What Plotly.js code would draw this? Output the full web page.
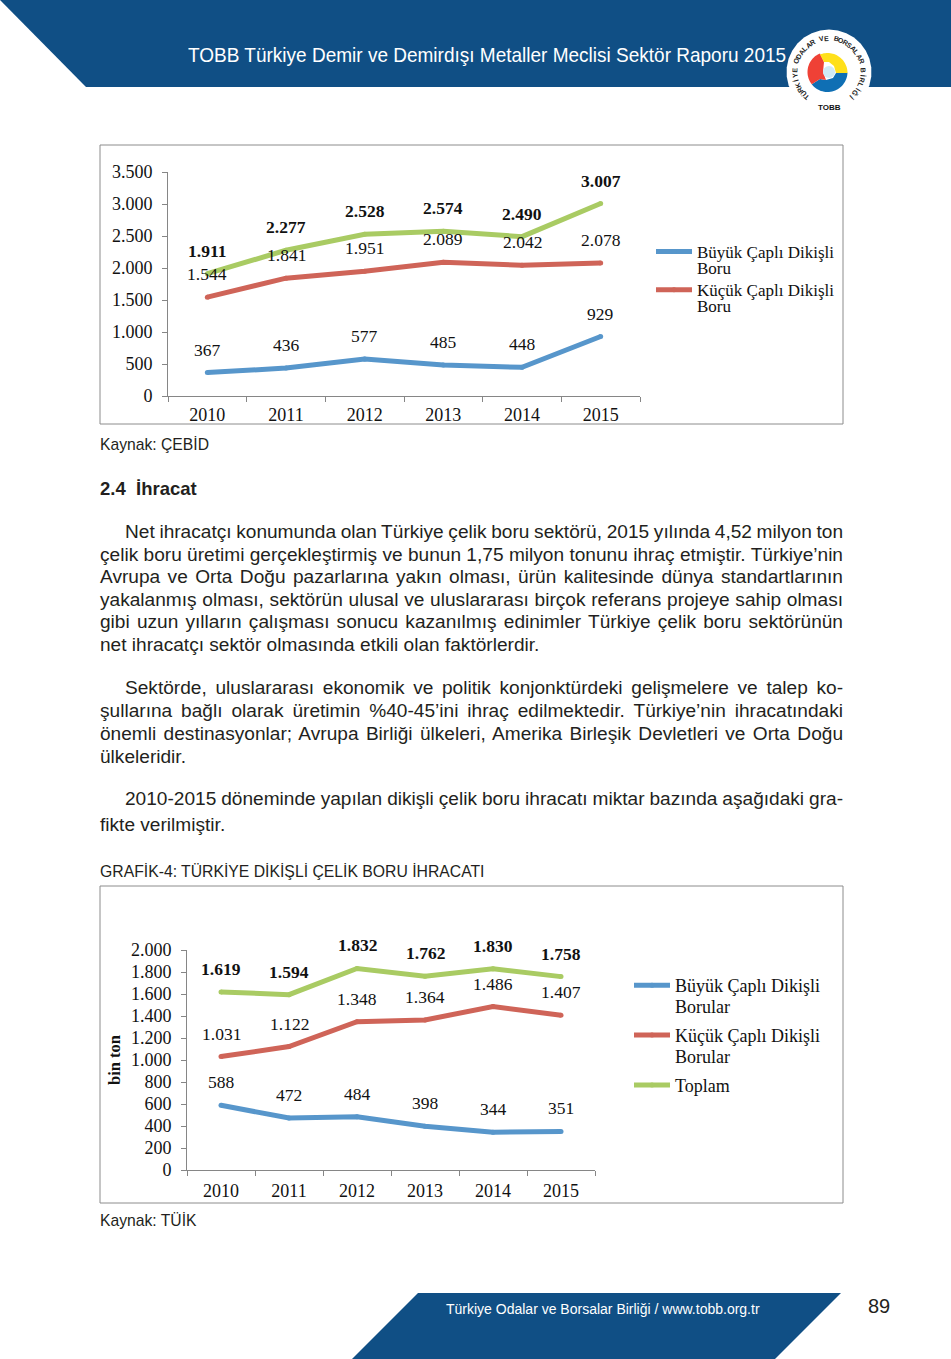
<!DOCTYPE html>
<html lang="tr">
<head>
<meta charset="utf-8">
<script src="https://cdn.plot.ly/plotly-3.0.1.min.js"></script>
<style>
html,body{margin:0;padding:0;background:#fff}
#page{position:relative;width:951px;height:1359px;overflow:hidden}
#plot{position:absolute;left:0;top:0;width:951px;height:1359px}
.t{position:absolute;font-family:"Liberation Sans",Arial,sans-serif;color:#231f20;white-space:pre;line-height:1;z-index:5}
</style>
</head>
<body>
<div id="page"><div id="plot"></div></div>
<script>
const years = ["2010","2011","2012","2013","2014","2015"];
const c1Big = [367,436,577,485,448,929];
const c1Small = [1544,1841,1951,2089,2042,2078];
const c1Total = [1911,2277,2528,2574,2490,3007];
const c2Big = [588,472,484,398,344,351];
const c2Small = [1031,1122,1348,1364,1486,1407];
const c2Total = [1619,1594,1832,1762,1830,1758];
const bigName = "Büyük Çaplı Dikişli";
const smallName = "Küçük Çaplı Dikişli";
const totalName = "Toplam";
const c1Tail = "Boru";
const c2Tail = "Borular";
const bodyLines = [
 [531,125,true,"Net ihracatçı konumunda olan Türkiye çelik boru sektörü, 2015 yılında 4,52 milyon ton"],
 [554,100,true,"çelik boru üretimi gerçekleştirmiş ve bunun 1,75 milyon tonunu ihraç etmiştir. Türkiye’nin"],
 [576,100,true,"Avrupa ve Orta Doğu pazarlarına yakın olması, ürün kalitesinde dünya standartlarının"],
 [599,100,true,"yakalanmış olması, sektörün ulusal ve uluslararası birçok referans projeye sahip olması"],
 [621,100,true,"gibi uzun yılların çalışması sonucu kazanılmış edinimler Türkiye çelik boru sektörünün"],
 [644,100,false,"net ihracatçı sektör olmasında etkili olan faktörlerdir."],
 [687,125,true,"Sektörde, uluslararası ekonomik ve politik konjonktürdeki gelişmelere ve talep ko-"],
 [710,100,true,"şullarına bağlı olarak üretimin %40-45’ini ihraç edilmektedir. Türkiye’nin ihracatındaki"],
 [733,100,true,"önemli destinasyonlar; Avrupa Birliği ülkeleri, Amerika Birleşik Devletleri ve Orta Doğu"],
 [756,100,false,"ülkeleridir."],
 [798,125,true,"2010-2015 döneminde yapılan dikişli çelik boru ihracatı miktar bazında aşağıdaki gra-"],
 [824,100,false,"fikte verilmiştir."]
];
const logoText = "TÜRKİYE ODALAR VE BORSALAR BİRLİĞİ";

const W = 951, H = 1359;
const px = x => x / W, py = y => 1 - y / H;
const BLUE = "#5796cb", RED = "#cf6458", GREEN = "#a9cb63", NAVY = "#104f85";
const SERIF = "Liberation Serif, Times New Roman, serif";
const fmt = v => v >= 1000 ? Math.floor(v / 1000) + "." + String(v % 1000).padStart(3, "0") : String(v);

function poly(points, fill) {
  const path = points.map((p, i) => (i ? "L" : "M") + px(p[0]).toFixed(5) + "," + py(p[1]).toFixed(5)).join(" ") + " Z";
  return {type:"path", xref:"paper", yref:"paper", path, fillcolor:fill, line:{width:0}, layer:"below"};
}
function arc(cx, cy, r, a0, a1) {
  const out = [], n = 30;
  for (let i = 0; i <= n; i++) {
    const a = (a0 + (a1 - a0) * i / n) * Math.PI / 180;
    out.push([cx + r * Math.sin(a), cy - r * Math.cos(a)]);
  }
  return out;
}
const frame = (x0, y0, x1, y1) => ({type:"rect", xref:"paper", yref:"paper", x0:px(x0), x1:px(x1), y0:py(y0), y1:py(y1), line:{color:"#8c8c8c", width:1}, fillcolor:"rgba(0,0,0,0)", layer:"below"});

const shapes = [
  poly([[0,0],[951,0],[951,87],[86,87]], NAVY),
  poly([[418,1293],[841,1293],[775,1359],[352,1359]], NAVY),
  frame(100,145,843,424),
  frame(100,886,843,1203),
  poly(arc(829,72,42.5,0,360), "#ffffff"),
  poly([[836,73],[833,78],[826,80],[820,79],...arc(827.5,72,20,232,92)], "#0f6fb4"),
  poly([...arc(827.5,72,20,-128,-22),[824,62],[823,72],[826,80],[820,79]], "#ef4136"),
  poly([...arc(827.5,73,20,-22,90),[836,73],[834,66],[829,62],[824,62]], "#ffe01b"),
  poly(arc(829,72,6,0,360), "#cfeaf5")
];

const ann = [];
function labels(xa, ya, values, bold, size) {
  values.forEach((v, i) => ann.push({
    xref:xa, yref:ya, x:i, y:v, yshift:23, showarrow:false, xanchor:"center", yanchor:"middle",
    text:bold ? "<b>" + fmt(v) + "</b>" : fmt(v),
    font:{family:SERIF, size, color:"#111"}
  }));
}
labels("x","y",c1Big,false,17.5); labels("x","y",c1Small,false,17.5); labels("x","y",c1Total,true,17.5);
labels("x2","y2",c2Big,false,17.5); labels("x2","y2",c2Small,false,17.5); labels("x2","y2",c2Total,true,17.5);

const tail = (x, y, text, size) => ({xref:"paper", yref:"paper", x:px(x), y:py(y), text, showarrow:false, xanchor:"left", yanchor:"middle", xshift:-2, font:{family:SERIF, size, color:"#111"}});
ann.push(tail(697,269,c1Tail,17), tail(697,307,c1Tail,17), tail(675,1007,c2Tail,18), tail(675,1057,c2Tail,18));

// logo lettering, evenly round the ring from lower left to lower right
[...logoText].forEach((ch, i, all) => {
  const a = -138 + 276 * i / (all.length - 1), r = a * Math.PI / 180;
  ann.push({xref:"paper", yref:"paper", x:px(829 + 34 * Math.sin(r)), y:py(72 - 34 * Math.cos(r)), xanchor:"center", yanchor:"middle",
    text:"<b>" + ch + "</b>", showarrow:false, textangle:a, font:{family:"Liberation Sans", size:7, color:"#222"}});
});
ann.push({xref:"paper", yref:"paper", x:px(829), y:py(108), xanchor:"center", yanchor:"middle", text:"<b>TOBB</b>", showarrow:false, font:{family:"Liberation Sans", size:8, color:"#111"}});

const tr = (xa, ya, y, color, name, legend, showlegend) => ({
  type:"scatter", mode:"lines+markers", x:years, y, xaxis:xa, yaxis:ya, name, legend, showlegend, legendgroup:legend + name,
  line:{color, width:5, shape:"linear"}, marker:{color, size:5}, hoverinfo:"skip"
});
const data = [
  tr("x","y",c1Big,BLUE,bigName,"legend",true),
  tr("x","y",c1Small,RED,smallName,"legend",true),
  tr("x","y",c1Total,GREEN,totalName,"legend",false),
  tr("x2","y2",c2Big,BLUE,bigName,"legend2",true),
  tr("x2","y2",c2Small,RED,smallName,"legend2",true),
  tr("x2","y2",c2Total,GREEN,totalName,"legend2",true)
];
const xaxis = (x0, x1, anchor, so) => ({
  type:"category", domain:[px(x0),px(x1)], anchor, range:[-0.5,5.5], tickson:"boundaries",
  ticks:"outside", ticklen:5, tickcolor:"#868686", showline:true, linecolor:"#868686", linewidth:1,
  showgrid:false, zeroline:false, ticklabelstandoff:so, tickfont:{family:SERIF, size:18, color:"#111"}, fixedrange:true
});
const yaxis = (y0, y1, anchor, max, dtick) => ({
  domain:[py(y0),py(y1)], anchor, range:[0,max], dtick, tickformat:",d",
  ticks:"outside", ticklen:5, tickcolor:"#868686", showline:true, linecolor:"#868686", linewidth:1,
  showgrid:false, zeroline:false, ticklabelstandoff:6, tickfont:{family:SERIF, size:18, color:"#111"}, fixedrange:true
});
const layout = {
  width:W, height:H, margin:{l:0,r:0,t:0,b:0}, paper_bgcolor:"#fff", plot_bgcolor:"rgba(0,0,0,0)",
  separators:",.", shapes, annotations:ann,
  xaxis:xaxis(168,640,"y",2),
  yaxis:yaxis(396,172,"x",3500,500),
  xaxis2:xaxis(187,595,"y2",4),
  yaxis2:Object.assign(yaxis(1170,950,"x2",2000,200),{title:{text:"<b>bin ton</b>", standoff:6, font:{family:SERIF, size:16.5, color:"#111"}}}),
  legend:{x:px(651), y:py(234), xanchor:"left", yanchor:"top", itemwidth:36, tracegroupgap:13, bgcolor:"rgba(0,0,0,0)", font:{family:SERIF, size:17, color:"#111"}},
  legend2:{x:px(629), y:py(967), xanchor:"left", yanchor:"top", itemwidth:36, tracegroupgap:23.5, bgcolor:"rgba(0,0,0,0)", font:{family:SERIF, size:18, color:"#111"}}
};
Plotly.newPlot("plot", data, layout, {displayModeBar:false, staticPlot:true});

const page = document.getElementById("page");
function put(y, x, text, style) {
  const d = document.createElement("div");
  d.className = "t";
  d.textContent = text;
  d.style.left = x + "px";
  Object.assign(d.style, style || {});
  page.appendChild(d);
  d.style.top = (y - d.offsetHeight / 2) + "px";
  return d;
}
bodyLines.forEach(l => {
  const d = put(l[0], l[1], l[3], {fontSize:"19.1px"});
  if (l[2]) {
    const gaps = l[3].split(" ").length - 1;
    d.style.wordSpacing = ((843 - l[1] - d.getBoundingClientRect().width) / gaps) + "px";
  }
});
put(54, 188, "TOBB Türkiye Demir ve Demirdışı Metaller Meclisi Sektör Raporu 2015", {fontSize:"21px", color:"#fff", transformOrigin:"0 50%", transform:"scaleX(0.905)"});
put(445, 100, "Kaynak: ÇEBİD", {fontSize:"15.7px"});
put(489, 100, "2.4  İhracat", {fontSize:"18.5px", fontWeight:"bold"});
put(872, 100, "GRAFİK-4: TÜRKİYE DİKİŞLİ ÇELİK BORU İHRACATI", {fontSize:"15.75px"});
put(1221, 100, "Kaynak: TÜİK", {fontSize:"15.7px"});
put(1309, 446, "Türkiye Odalar ve Borsalar Birliği / www.tobb.org.tr", {fontSize:"14px", color:"#fff"});
put(1306, 868, "89", {fontSize:"20px"});
</script>
</body>
</html>
